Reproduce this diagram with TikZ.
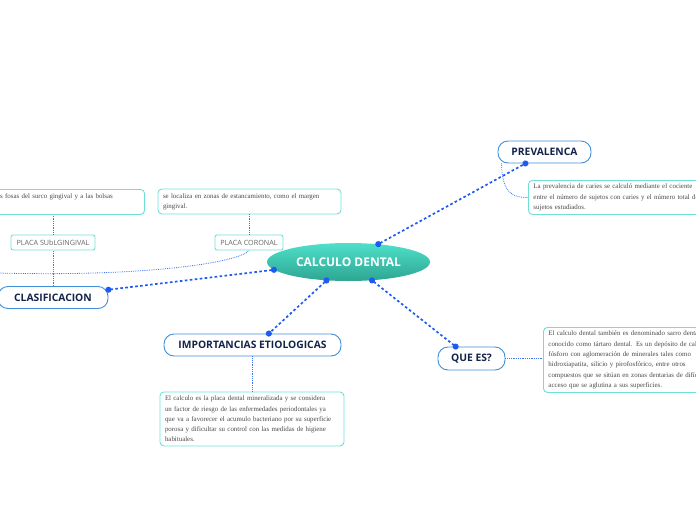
\documentclass[tikz,border=0pt]{standalone}
\usepackage{fontspec}
\setmainfont{Liberation Serif}
\newfontfamily\tituloFont{Open Sans}
\usetikzlibrary{shapes.geometric,arrows.meta}
\definecolor{azulcon}{HTML}{1F5BF0}
\definecolor{azultema}{HTML}{3F8FD8}
\definecolor{turquesa}{HTML}{6FE0D6}
\definecolor{marino}{HTML}{13244A}
\definecolor{tealclaro}{HTML}{4EE0C9}
\definecolor{tealoscuro}{HTML}{2EA592}
\definecolor{textogris}{HTML}{4A4A4A}
\tikzset{
  tema/.style={draw=azultema, line width=0.9pt, rounded corners=10pt, fill=white,
    minimum height=22pt, inner sep=0pt, text=marino,
    font=\tituloFont\bfseries\fontsize{10.3}{12}\selectfont},
  nota/.style={draw=turquesa, line width=0.9pt, rounded corners=4pt, fill=white,
    inner xsep=5pt, inner ysep=2pt, align=left, text=textogris,
    font=\fontsize{6.9}{10.3}\selectfont},
  placa/.style={draw=turquesa, line width=0.9pt, rounded corners=2pt, fill=white,
    minimum height=15pt, inner sep=0pt, text=black!60,
    font=\tituloFont\fontsize{7.2}{8}\selectfont},
  rama/.style={draw=azulcon, line width=1.7pt, dash pattern=on 2.6pt off 2.4pt,
    {Circle[length=6pt]}-{Circle[length=6pt]}, shorten <=-3pt, shorten >=-3pt},
  hilo/.style={draw=azulcon!85, line width=0.8pt, densely dotted},
}
\begin{document}
\begin{tikzpicture}[x=1pt,y=-1pt]
\useasboundingbox (0,0) rectangle (696,520);
\clip (0,0) rectangle (696,520);
%tema central
\node[ellipse, minimum width=163pt, minimum height=38pt, top color=tealclaro,
  bottom color=tealoscuro, text=white,
  font=\tituloFont\bfseries\fontsize{12}{14}\selectfont] (calc) at (348.5,262) {CALCULO DENTAL};
%subtemas
\node[tema, minimum width=93pt] (prev) at (544.5,152) {PREVALENCA};
\node[tema, minimum width=110pt] (clas) at (53,297.5) {CLASIFICACION};
\node[tema, minimum width=177pt] (imp) at (252.5,345) {IMPORTANCIAS ETIOLOGICAS};
\node[tema, minimum width=67pt, minimum height=23pt] (quees) at (471.5,358.5) {QUE ES?};
%placas
\node[placa, minimum width=84pt] (placasub) at (53,242.5) {PLACA SUbLGINGIVAL};
\node[placa, minimum width=68pt] (placacor) at (249,242.5) {PLACA CORONAL};
%notas
\node[nota, anchor=north west, text width=185pt, minimum height=34pt] (prevtxt) at (528,180)
  {La prevalencia de caries se calculó mediante el cociente\\
   entre el número de sujetos con caries y el número total de\\
   sujetos estudiados.};
\node[nota, anchor=north east, text width=185pt, minimum height=25pt] (subtxt) at (145,189)
  {se localiza en las fosas del surco gingival y a las bolsas\\
   periodontales.};
\node[nota, text width=173pt, minimum height=25pt] (cortxt) at (249.5,201.5)
  {se localiza en zonas de estancamiento, como el margen\\
   gingival.};
\node[nota, text width=174pt, minimum height=54pt] (imptxt) at (252,419)
  {El calculo es la placa dental mineralizada y se considera\\
   un factor de riesgo de las enfermedades periodontales ya\\
   que va a favorecer el acumulo bacteriano por su superficie\\
   porosa y dificultar su control con las medidas de higiene\\
   habituales.};
\node[nota, anchor=north west, text width=190pt, minimum height=65pt] (quetxt) at (543,327)
  {El calculo dental también es denominado sarro dental o\\
   conocido como tártaro dental. Es un depósito de calcio y\\
   fósforo con aglomeración de minerales tales como\\
   hidroxiapatita, silicio y pirofosfórico, entre otros\\
   compuestos que se sitúan en zonas dentarias de difícil\\
   acceso que se aglutina a sus superficies.};
%ramas principales
\draw[rama] (calc.31) -- (prev.211);
\draw[rama] (calc.186) -- (clas.8);
\draw[rama] (calc.220) -- (imp.35);
\draw[rama] (calc.322) -- (quees.143);
%hilos
\coordinate (borde) at (-2,273);
\draw[hilo] ([xshift=4pt]prev.south west) .. controls (502,192) and (512,198) .. (prevtxt.west);
\draw[hilo] (clas.north) -- (placasub.south);
\draw[hilo] (placasub.north) -- (placasub.north |- subtxt.south);
\draw[hilo] (placacor.north) -- (placacor.north |- cortxt.south);
\draw[hilo] (borde) .. controls (150,277) and (240,262) .. (placacor.south);
\draw[hilo] (imp.south) -- (imp.south |- imptxt.north);
\draw[hilo] (quees.east) -- (quees.east -| quetxt.west);
\end{tikzpicture}
\end{document}
